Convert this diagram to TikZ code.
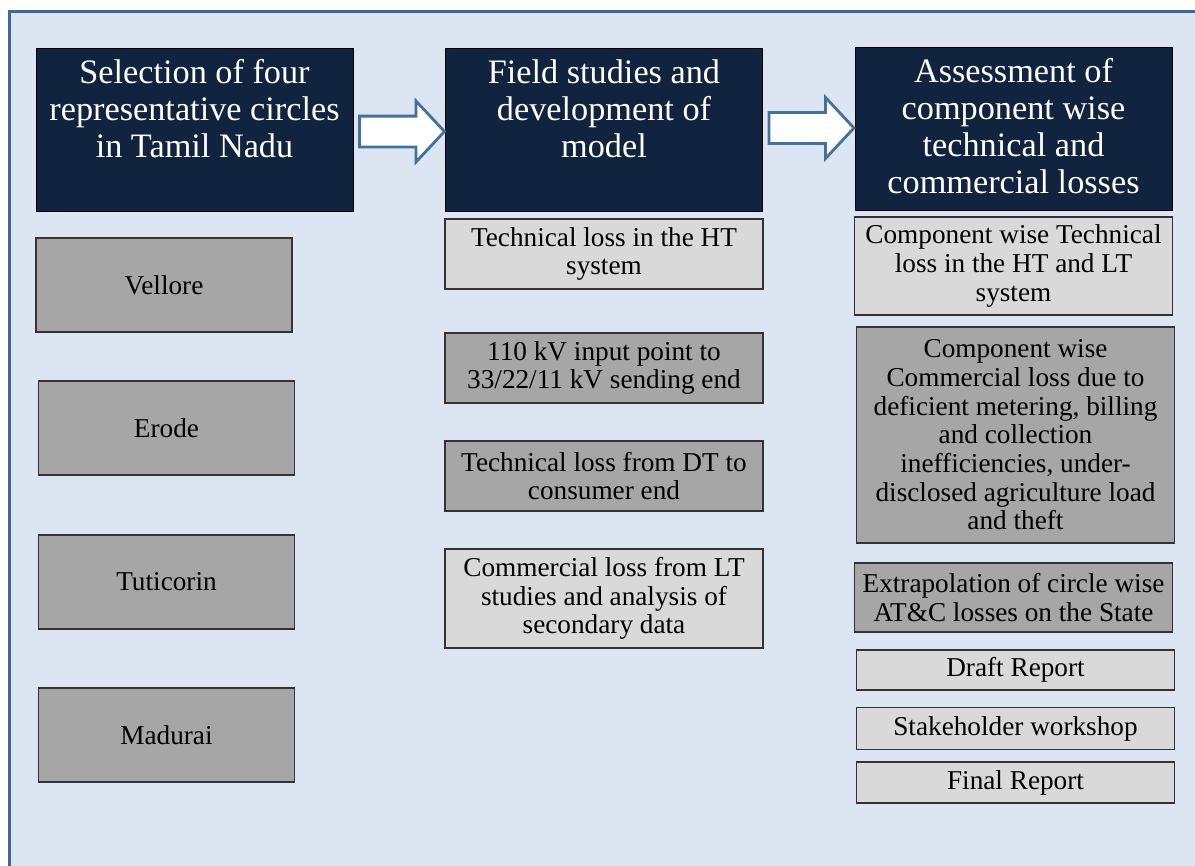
\documentclass[tikz,border=0pt]{standalone}
\usepackage{fontspec}
\setmainfont{Liberation Serif}
\usetikzlibrary{shapes.arrows,calc}

\definecolor{framefill}{HTML}{DCE6F2}
\definecolor{frameline}{HTML}{41689A}
\definecolor{headfill}{HTML}{10243F}
\definecolor{boxdark}{HTML}{A6A6A6}
\definecolor{boxlight}{HTML}{D9D9D9}
\definecolor{arrowline}{HTML}{41719C}

\newcommand{\headtext}[1]{\parbox[c][3.26cm][t]{6.2cm}{\centering\rule{0pt}{20pt}#1}}

\begin{document}
\begin{tikzpicture}[
  head/.style={draw=black,fill=headfill,text=white,inner sep=0pt,minimum width=6.34cm,font=\fontsize{19.5}{21}\selectfont},
  circlebox/.style={draw=black!80,line width=0.7pt,fill=boxdark,minimum width=5.12cm,minimum height=1.88cm,font=\fontsize{15.5}{16.3}\selectfont},
  itembox/.style={draw=black!80,line width=0.7pt,minimum width=6.36cm,align=center,inner sep=1pt,font=\fontsize{15.5}{16.3}\selectfont},
  flowarrow/.style={single arrow,draw=arrowline,line width=1.6pt,fill=white,minimum height=1.7cm,inner sep=0.28cm,single arrow head extend=0.3cm,single arrow tip angle=94}
]
\useasboundingbox[fill=white] (0,0) rectangle (23.9,-17.32);
\draw[frameline,fill=framefill,line width=1.7pt] (0.19,-0.23) rectangle (24.4,-17.8);

\node[head] (h1) at (3.89,-2.60) {\headtext{Selection of four\\representative circles\\in Tamil Nadu}};
\node[head] (h2) at (12.08,-2.60) {\headtext{Field studies and\\development of\\model}};
\node[head] (h3) at (20.27,-2.58) {\headtext{Assessment of\\component wise\\technical and\\commercial losses}};

\node[flowarrow] (a1) at ($(h1.east)!0.5!(h2.west)+(-0.09,-0.03)$) {};
\node[flowarrow] (a2) at ($(h2.east)!0.5!(h3.west)+(-0.09,0.03)$) {};

\node[circlebox] (c1) at (3.28,-5.70) {Vellore};
\node[circlebox] (c2) at (3.33,-8.56) {Erode};
\node[circlebox] (c3) at (3.33,-11.64) {Tuticorin};
\node[circlebox] (c4) at (3.33,-14.70) {Madurai};

\node[itembox,fill=boxlight,minimum height=1.40cm] (m1) at (12.08,-5.08) {Technical loss in the HT\\system};
\node[itembox,fill=boxdark,minimum height=1.40cm] (m2) at (12.08,-7.36) {110 kV input point to\\33/22/11 kV sending end};
\node[itembox,fill=boxdark,minimum height=1.40cm] (m3) at (12.08,-9.52) {Technical loss from DT to\\consumer end};
\node[itembox,fill=boxlight,minimum height=1.98cm] (m4) at (12.08,-11.97) {Commercial loss from LT\\studies and analysis of\\secondary data};

\node[itembox,fill=boxlight,minimum height=1.96cm] (r1) at (20.27,-5.32) {Component wise Technical\\loss in the HT and LT\\system};
\node[itembox,fill=boxdark,minimum height=4.32cm] (r2) at (20.31,-8.70) {Component wise\\Commercial loss due to\\deficient metering, billing\\and collection\\inefficiencies, under-\\disclosed agriculture load\\and theft};
\node[itembox,fill=boxdark,minimum height=1.38cm] (r3) at (20.27,-11.95) {Extrapolation of circle wise\\AT\&C losses on the State};
\node[itembox,fill=boxlight,minimum height=0.80cm] (r4) at (20.31,-13.40) {Draft Report};
\node[itembox,fill=boxlight,minimum height=0.84cm] (r5) at (20.31,-14.57) {Stakeholder workshop};
\node[itembox,fill=boxlight,minimum height=0.82cm] (r6) at (20.31,-15.65) {Final Report};
\end{tikzpicture}
\end{document}
